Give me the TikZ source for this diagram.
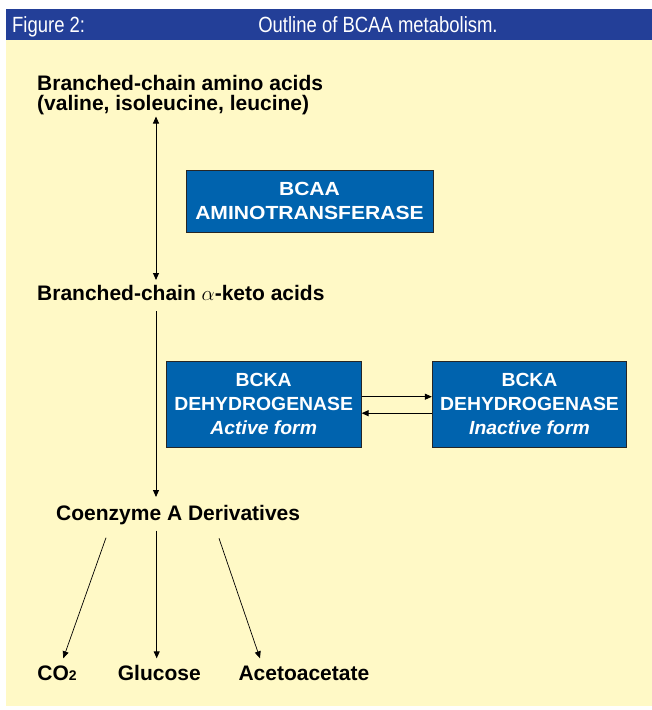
\documentclass[tikz,border=0pt]{standalone}
\usepackage{fontspec}
\setmainfont{Liberation Sans}
\newfontfamily\headfont[FakeStretch=0.84]{Liberation Sans}
\newfontfamily\boxfont[FakeStretch=1.11]{Liberation Sans}
\newfontfamily\bckafont[FakeStretch=1.02]{Liberation Sans}
\usetikzlibrary{arrows.meta}
\definecolor{hdrblue}{HTML}{233F98}
\definecolor{paneyellow}{HTML}{FFF9C6}
\definecolor{boxblue}{HTML}{0063AE}
\tikzset{
  lbl/.style={inner sep=0pt, align=left, font=\fontsize{21pt}{20.5pt}\selectfont\bfseries, text=black},
  hdr/.style={inner sep=0pt, text=white, font=\headfont\fontsize{22pt}{22pt}\selectfont},
  enzbox/.style={draw=black!85, line width=0.8pt, fill=boxblue, text=white, align=center,
    inner sep=0pt, font=\boxfont\fontsize{19pt}{23.5pt}\selectfont\bfseries},
  bckabox/.style={enzbox, font=\bckafont\fontsize{19pt}{24pt}\selectfont\bfseries},
  arr/.style={line width=0.9pt, -{Triangle[length=7pt,width=6pt]}},
  darr/.style={line width=0.9pt, {Triangle[length=7pt,width=6pt]}-{Triangle[length=7pt,width=6pt]}}
}
\begin{document}
\begin{tikzpicture}[x=1pt,y=-1pt]
\useasboundingbox (0,0) rectangle (652,710);
\fill[white] (0,0) rectangle (652,710);
\fill[hdrblue] (6,9) rectangle (652,40);
\fill[paneyellow] (6,40) rectangle (652,706);

\node[hdr, anchor=base west] (fig) at (12,32) {Figure 2:};
\node[hdr, anchor=base] (title) at (378,32) {Outline of BCAA metabolism.};

\node[lbl, anchor=base west] (bcaa) at (37,110.5) {Branched-chain amino acids\\(valine, isoleucine, leucine)};
\node[lbl, anchor=base west] (keto) at (37,300) {Branched-chain $\alpha$-keto acids};
\node[lbl, anchor=base west] (coa) at (56,520.5) {Coenzyme A Derivatives};
\node[lbl, anchor=base west] (co2) at (37.3,680.7) {CO{\fontsize{14pt}{14pt}\selectfont 2}};
\node[lbl, anchor=base west] (glu) at (117.7,680.7) {Glucose};
\node[lbl, anchor=base west] (ace) at (238.3,680.7) {Acetoacetate};

\node[enzbox, minimum width=247pt, minimum height=62pt] (amt) at (309.5,201) {BCAA\\AMINOTRANSFERASE};
\node[bckabox, minimum width=195pt, minimum height=86pt] (act) at (263.7,404.2) {BCKA\\DEHYDROGENASE\\\itshape Active form};
\node[bckabox, minimum width=194.5pt, minimum height=86pt] (inact) at (529.5,404.2) {BCKA\\DEHYDROGENASE\\\itshape Inactive form};

\coordinate (a1t) at (156,116.5);
\coordinate (a1b) at (156,280);
\coordinate (a2t) at (156,311);
\coordinate (a2b) at (156,497);
\coordinate (c1s) at (106,537.7);
\coordinate (c1e) at (63.3,658.3);
\coordinate (c2s) at (156.7,530.7);
\coordinate (c2e) at (156.7,658.3);
\coordinate (c3s) at (219,538.3);
\coordinate (c3e) at (260,658.3);

\draw[darr] (a1t) -- (a1b);
\draw[arr] (a2t) -- (a2b);
\draw[arr] ([yshift=7.5pt]act.east) -- ([yshift=7.5pt]inact.west);
\draw[arr] ([yshift=-9pt]inact.west) -- ([yshift=-9pt]act.east);
\draw[arr, line width=0.7pt] (c1s) -- (c1e);
\draw[arr] (c2s) -- (c2e);
\draw[arr, line width=0.7pt] (c3s) -- (c3e);
\end{tikzpicture}
\end{document}
